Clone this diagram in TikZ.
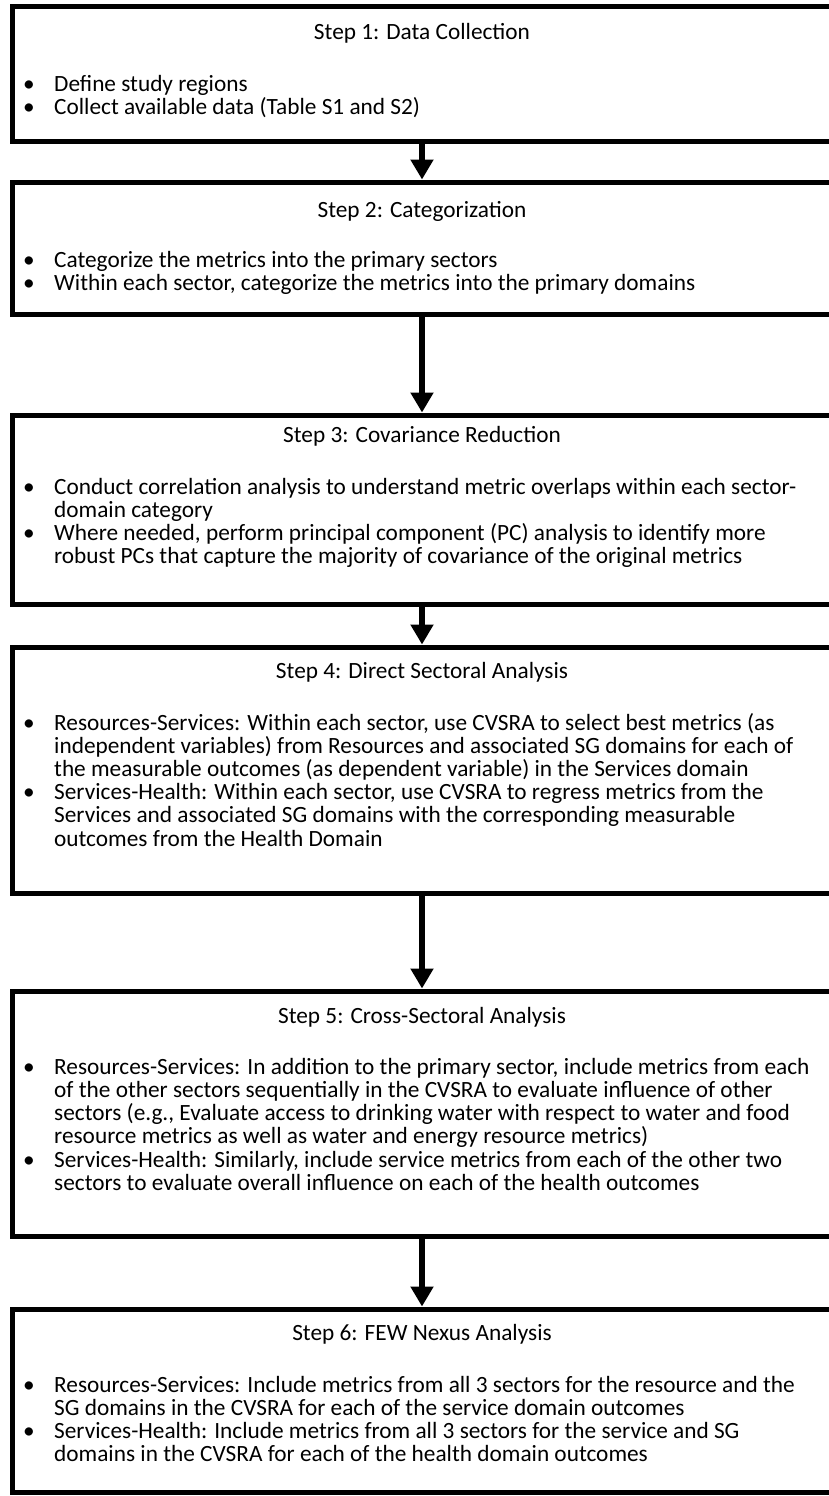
\documentclass[tikz,border=0pt]{standalone}
\usepackage{fontspec}
\setmainfont{Carlito}
\usetikzlibrary{arrows.meta}
\newcommand{\bul}{\strut\makebox[31pt][l]{\textbullet}}
\newcommand{\ind}{\strut\hspace*{31pt}}
\tikzset{stepbox/.style={draw,line width=5pt,minimum width=819pt,inner sep=0pt},
  steptitle/.style={anchor=base,inner sep=0pt},
  stepbody/.style={anchor=north west,align=left,inner sep=0pt,yshift=16.1pt},
  flow/.style={-{Triangle[width=22pt,length=20pt]},line width=6.5pt}}
\begin{document}
\lineskiplimit=-100pt\relax
\begin{tikzpicture}[x=1pt,y=-1pt,font=\fontsize{23.3}{23.2}\selectfont]
\useasboundingbox (0,0) rectangle (828,1496);
% boxes
\node[stepbox,minimum height=134pt] (b1) at (422,74){};
\node[stepbox,minimum height=132pt] (b2) at (422,248){};
\node[stepbox,minimum height=189pt] (b3) at (422,509.5){};
\node[stepbox,minimum height=246pt] (b4) at (422,770){};
\node[stepbox,minimum height=245pt] (b5) at (422,1113.5){};
\node[stepbox,minimum height=183pt] (b6) at (422,1400.5){};
% titles
\node[steptitle] (t1) at (422,40){Step 1: Data Collection};
\node[steptitle] (t2) at (422,217){Step 2: Categorization};
\node[steptitle] (t3) at (422,442){Step 3: Covariance Reduction};
\node[steptitle] (t4) at (422,678){Step 4: Direct Sectoral Analysis};
\node[steptitle] (t5) at (422,1023){Step 5: Cross-Sectoral Analysis};
\node[steptitle] (t6) at (422,1340){Step 6: FEW Nexus Analysis};
% bullet lists
\node[stepbody] (d1) at (23,91){\bul Define study regions\\
\bul Collect available data (Table S1 and S2)};
\node[stepbody] (d2) at (23,267){\bul Categorize the metrics into the primary sectors\\
\bul Within each sector, categorize the metrics into the primary domains};
\node[stepbody] (d3) at (23,494){\bul Conduct correlation analysis to understand metric overlaps within each sector-\\
\ind domain category\\
\bul Where needed, perform principal component (PC) analysis to identify more\\
\ind robust PCs that capture the majority of covariance of the original metrics};
\node[stepbody] (d4) at (23,729){\bul Resources-Services: Within each sector, use CVSRA to select best metrics (as\\
\ind independent variables) from Resources and associated SG domains for each of\\
\ind the measurable outcomes (as dependent variable) in the Services domain\\
\bul Services-Health: Within each sector, use CVSRA to regress metrics from the\\
\ind Services and associated SG domains with the corresponding measurable\\
\ind outcomes from the Health Domain};
\node[stepbody] (d5) at (23,1074){\bul Resources-Services: In addition to the primary sector, include metrics from each\\
\ind of the other sectors sequentially in the CVSRA to evaluate influence of other\\
\ind sectors (e.g., Evaluate access to drinking water with respect to water and food\\
\ind resource metrics as well as water and energy resource metrics)\\
\bul Services-Health: Similarly, include service metrics from each of the other two\\
\ind sectors to evaluate overall influence on each of the health outcomes};
\node[stepbody] (d6) at (23,1392){\bul Resources-Services: Include metrics from all 3 sectors for the resource and the\\
\ind SG domains in the CVSRA for each of the service domain outcomes\\
\bul Services-Health: Include metrics from all 3 sectors for the service and SG\\
\ind domains in the CVSRA for each of the health domain outcomes};
% arrows
\foreach \a/\b in {b1/b2,b2/b3,b3/b4,b4/b5,b5/b6}
  \draw[flow] (\a.south) -- (\b.north);
\end{tikzpicture}
\end{document}
